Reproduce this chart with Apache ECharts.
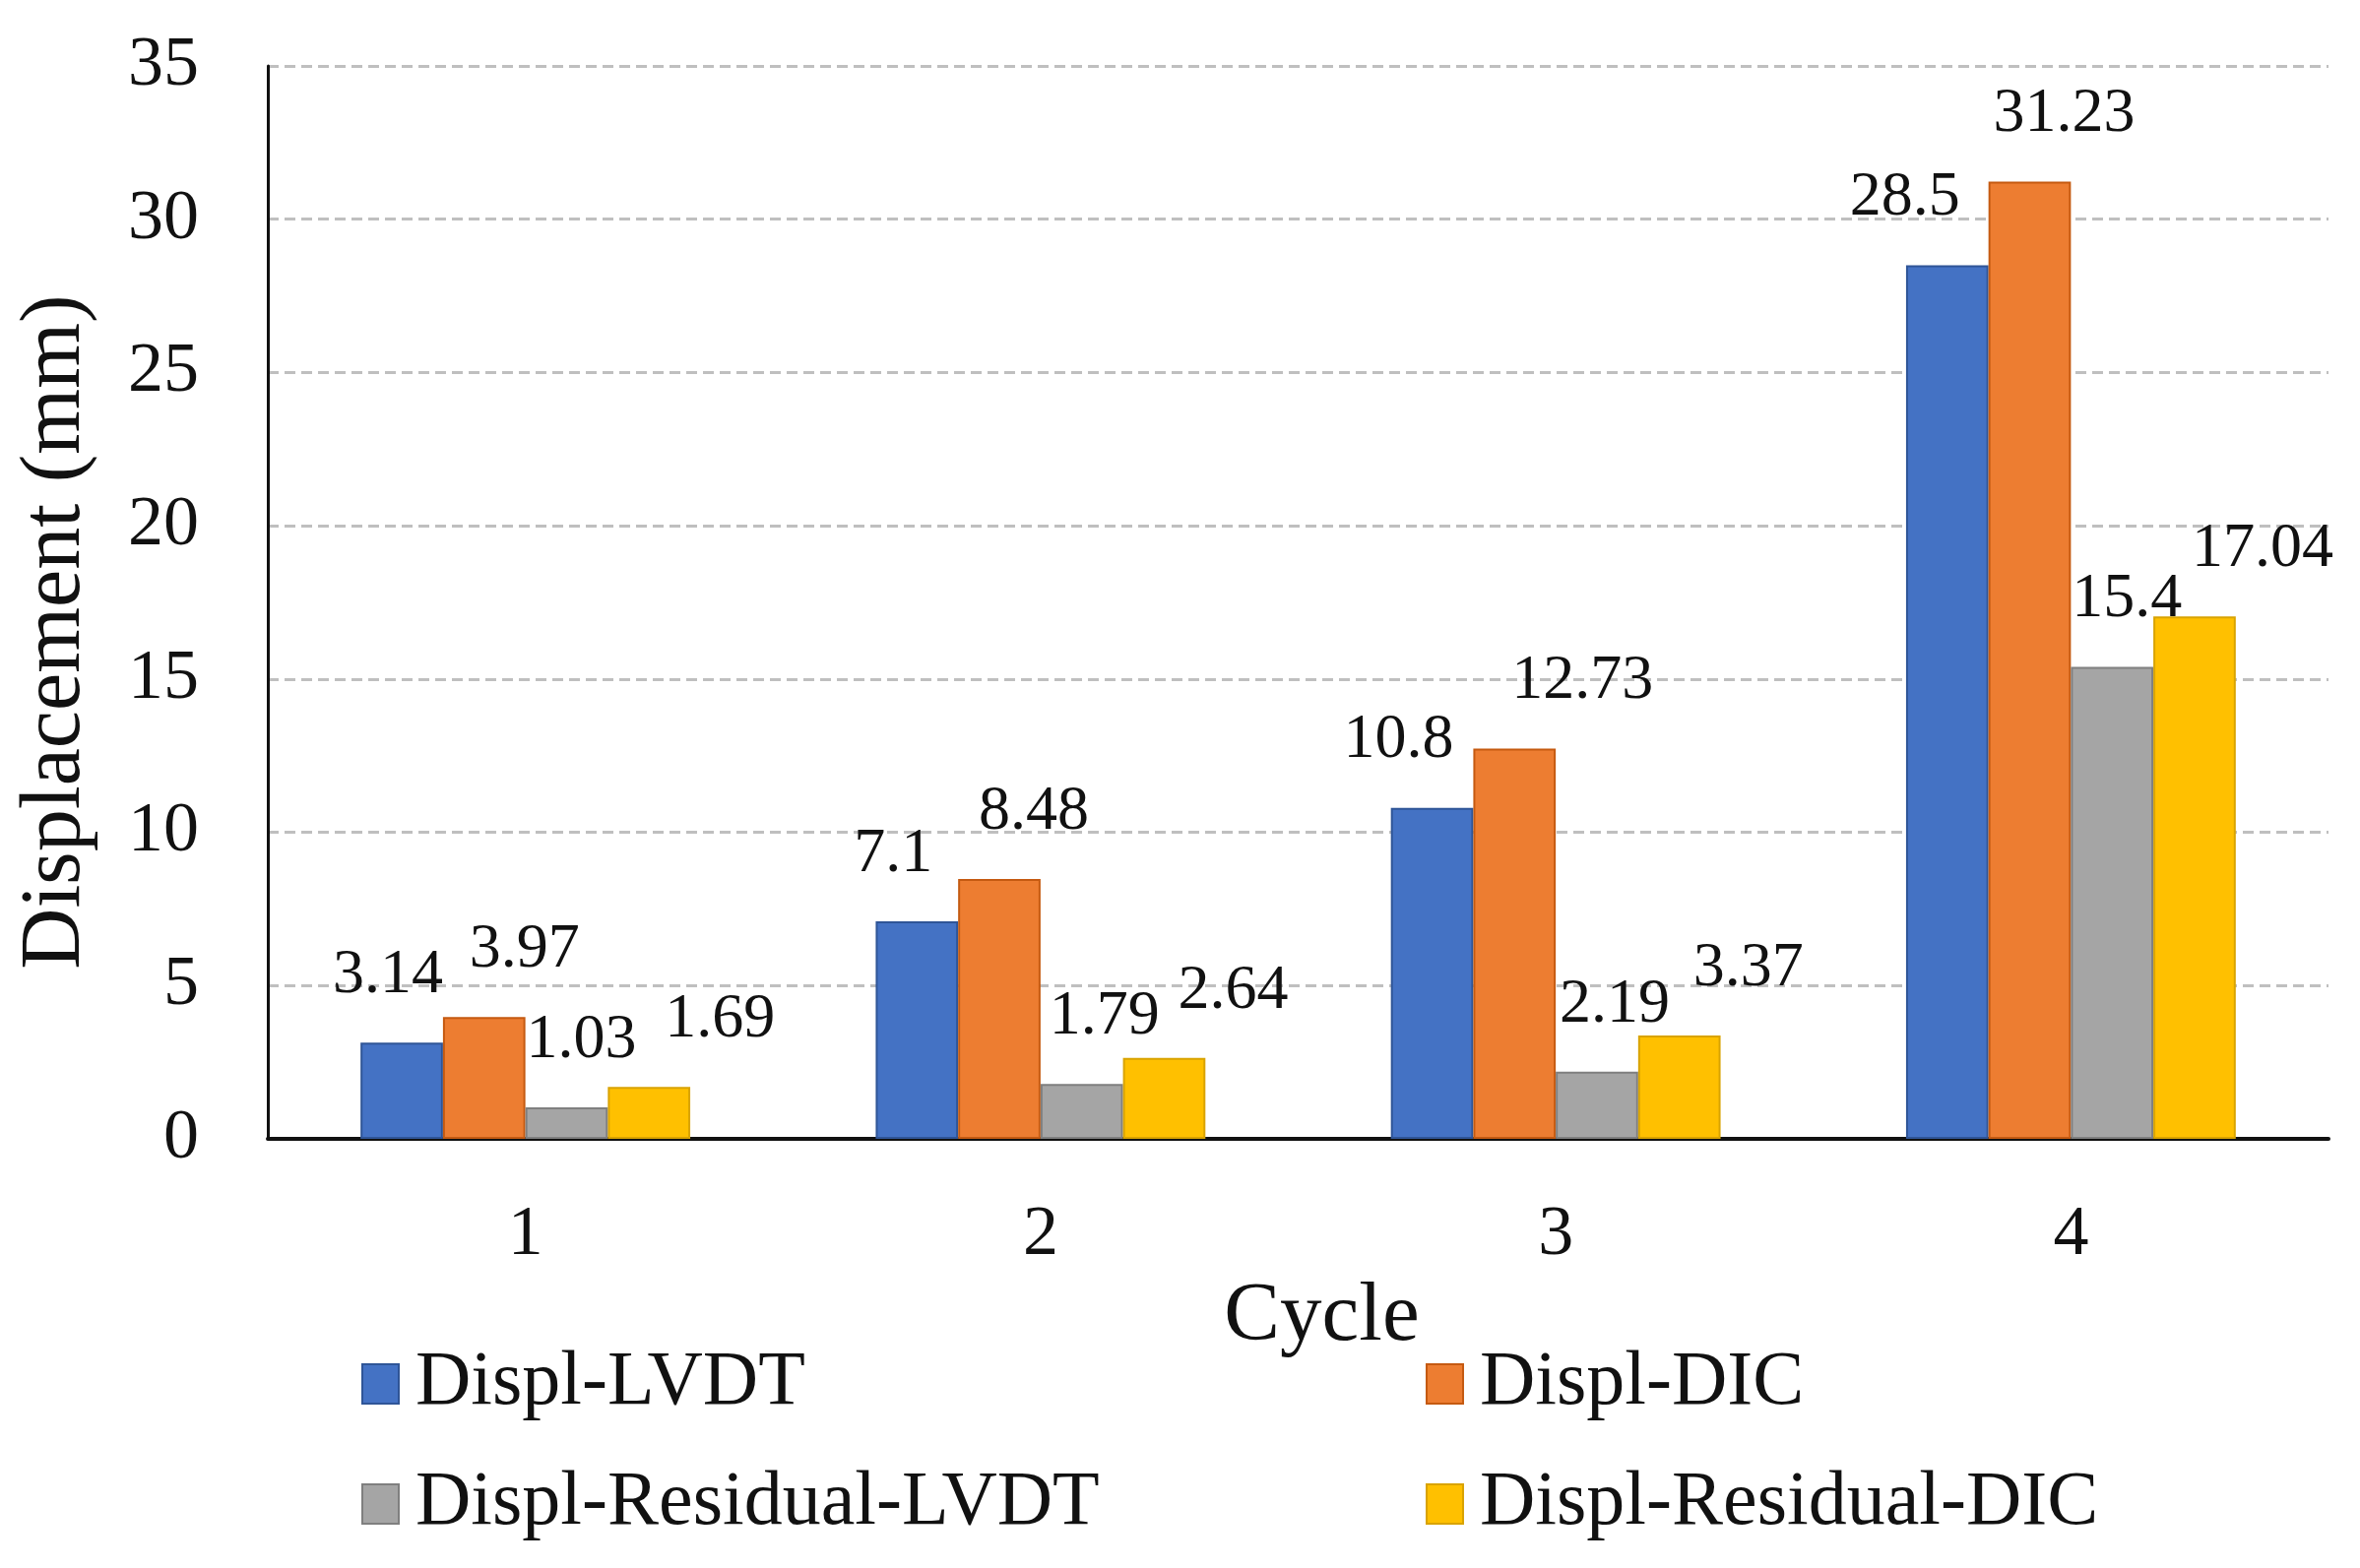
<!DOCTYPE html>
<html>
<head>
<meta charset="utf-8">
<style>
html,body{margin:0;padding:0;background:#fff;}
#chart{width:2397px;height:1593px;}
</style>
<script src="https://cdn.jsdelivr.net/npm/echarts@6/dist/echarts.min.js"></script>
</head>
<body>
<div id="chart"></div>
<script>
// ---- data ----
const categories = ['1', '2', '3', '4'];
const seriesNames = ['Displ-LVDT', 'Displ-DIC', 'Displ-Residual-LVDT', 'Displ-Residual-DIC'];
const displLVDT = [3.14, 7.1, 10.8, 28.5];
const displDIC = [3.97, 8.48, 12.73, 31.23];
const residualLVDT = [1.03, 1.79, 2.19, 15.4];
const residualDIC = [1.69, 2.64, 3.37, 17.04];
const yTicks = {min: 0, max: 35, interval: 5};

// ---- style ----
const FONT = 'Liberation Serif';
const colors = ['#4472C4', '#ED7D31', '#A5A5A5', '#FFC000'];
const borders = ['#2F5597', '#C55A11', '#7F7F7F', '#D9A300'];
const labelDx = [
  [-14, -24, -34, -43],
  [41, 35, 69, 35],
  [15, 23, 18, 15],
  [72, 70, 70, 69]
];

const values = [displLVDT, displDIC, residualLVDT, residualDIC];

const chart = echarts.init(document.getElementById('chart'));
const series = values.map((vals, i) => ({
  name: seriesNames[i],
  type: 'bar',
  barGap: '0%',
  barCategoryGap: '36%',
  itemStyle: {color: colors[i], borderColor: borders[i], borderWidth: 2},
  data: vals.map((v, j) => ({
    value: v,
    label: {offset: [labelDx[i][j], 0]}
  })),
  label: {
    show: true,
    position: 'top',
    distance: 36,
    color: '#111',
    fontFamily: FONT,
    fontSize: 64,
    formatter: p => String(p.value)
  }
}));

const legendCommon = {
  orient: 'vertical',
  top: 1362,
  icon: 'rect',
  itemWidth: 37, itemHeight: 40, itemGap: 44,
  textStyle: {fontFamily: FONT, fontSize: 78, color: '#111', padding: [0, 0, 0, 12]}
};

chart.setOption({
  backgroundColor: '#fff',
  animation: false,
  grid: {left: 272, right: 32, top: 67, bottom: 436},
  legend: [
    Object.assign({data: [seriesNames[0], seriesNames[2]], left: 362}, legendCommon),
    Object.assign({data: [seriesNames[1], seriesNames[3]], left: 1443}, legendCommon)
  ],
  xAxis: {
    type: 'category',
    data: categories,
    name: 'Cycle',
    nameLocation: 'middle',
    nameGap: 128,
    nameTextStyle: {fontFamily: FONT, fontSize: 85, color: '#111', padding: [0, 0, 0, 48]},
    axisLine: {show: true, lineStyle: {color: '#111', width: 4}},
    axisTick: {show: false},
    axisLabel: {fontFamily: FONT, fontSize: 72, color: '#111', margin: 62}
  },
  yAxis: {
    type: 'value',
    min: yTicks.min, max: yTicks.max, interval: yTicks.interval,
    name: 'Displacement (mm)',
    nameLocation: 'middle',
    nameGap: 172,
    nameTextStyle: {fontFamily: FONT, fontSize: 86, color: '#111', padding: [0, 60, 0, 0]},
    axisLine: {show: true, lineStyle: {color: '#111', width: 3}},
    axisTick: {show: false},
    axisLabel: {fontFamily: FONT, fontSize: 72, color: '#111', margin: 70},
    splitLine: {show: true, lineStyle: {color: '#BFBFBF', width: 3, type: [11, 6]}}
  },
  series: series
});
</script>
</body>
</html>
